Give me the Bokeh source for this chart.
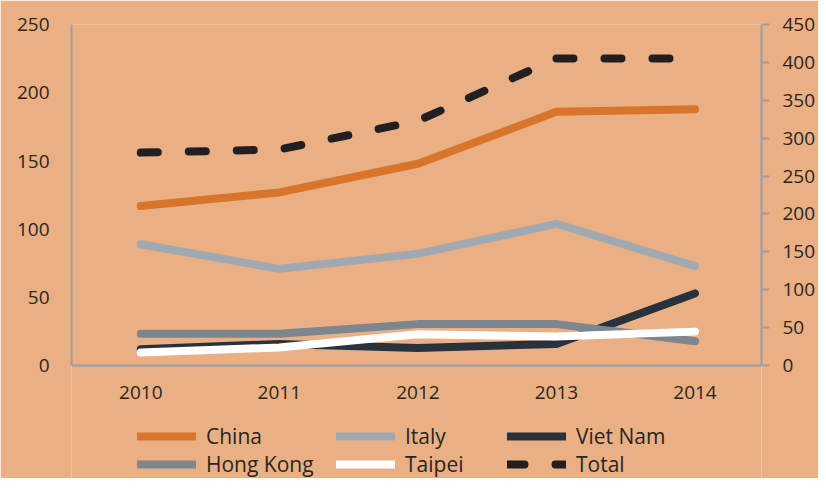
from bokeh.plotting import figure
from bokeh.models import Range1d, LinearAxis, FixedTicker, Legend, LegendItem
from bokeh.embed import file_html
from bokeh.resources import INLINE

years = [2010, 2011, 2012, 2013, 2014]
china = [117, 127, 148, 186, 188]
italy = [89, 71, 82, 104, 73]
viet_nam = [12, 16, 13, 16, 53]
hong_kong = [23.5, 23.5, 30.5, 30.5, 18]
taipei = [9.7, 13.4, 23, 21.4, 25]
total = [281, 285, 323, 405, 405]

left_ticks = [0, 50, 100, 150, 200, 250]
right_ticks = [0, 50, 100, 150, 200, 250, 300, 350, 400, 450]

BG = "#EAB083"
AXIS = "#9A9FA5"
TXT = "#2B2522"
FONT = "Open Sans"

# frame reaches down to the figure bottom so the legend (inside the frame) is not clipped;
# the value axes are bounded to their data span.
p = figure(width=818, height=478, output_backend="svg", toolbar_location=None,
           x_range=Range1d(2009.5, 2014.48), y_range=Range1d(-82.6, 250),
           min_border_left=71, min_border_right=55, min_border_top=24,
           min_border_bottom=0, x_axis_location=None, y_axis_location=None)
p.extra_y_ranges = {"right": Range1d(-149.1, 450)}
p.background_fill_color = BG
p.border_fill_color = BG
p.outline_line_color = None
p.xgrid.visible = False
p.ygrid.visible = False

def style_axis(ax):
    ax.axis_line_color = AXIS
    ax.axis_line_width = 2
    ax.major_tick_line_color = AXIS
    ax.major_tick_line_width = 2
    ax.minor_tick_line_color = None
    ax.major_label_text_font = FONT
    ax.major_label_text_font_size = "19px"
    ax.major_label_text_color = TXT

xa = LinearAxis(ticker=FixedTicker(ticks=years), fixed_location=0)
style_axis(xa)
xa.major_tick_out = 0
xa.major_tick_in = 0
xa.major_label_standoff = 20
p.add_layout(xa, "below")

ya = LinearAxis(ticker=FixedTicker(ticks=left_ticks), bounds=(0, 250))
style_axis(ya)
ya.major_tick_out = 0
ya.major_tick_in = 0
ya.major_label_standoff = 22
p.add_layout(ya, "left")

ra = LinearAxis(y_range_name="right", ticker=FixedTicker(ticks=right_ticks), bounds=(0, 450))
style_axis(ra)
ra.major_tick_out = 8
ra.major_tick_in = 0
ra.major_label_standoff = 13
p.add_layout(ra, "right")

series = [
    ("China", china, "#D9752B", None, "default"),
    ("Italy", italy, "#A0A9B2", None, "default"),
    ("Viet Nam", viet_nam, "#28323D", None, "default"),
    ("Hong Kong", hong_kong, "#7B868F", None, "default"),
    ("Taipei", taipei, "#FFFFFF", None, "default"),
    ("Total", total, "#231F20", "17 31", "right"),
]

renderers = {}
for name, vals, color, dash, rng in series:
    kw = dict(line_color=color, line_width=8, line_cap="round", line_join="round")
    if dash:
        kw["line_dash"] = dash
    r = p.line(years, vals, y_range_name=rng, **kw)
    renderers[name] = r

columns = [
    (["China", "Hong Kong"], 66),
    (["Italy", "Taipei"], 265),
    (["Viet Nam", "Total"], 436),
]
for names, x in columns:
    leg = Legend(items=[LegendItem(label=n, renderers=[renderers[n]]) for n in names],
                 location=(x, 0), orientation="vertical",
                 background_fill_alpha=0, border_line_color=None,
                 padding=0, margin=0, spacing=-4,
                 glyph_width=59, glyph_height=20, label_height=20,
                 label_standoff=10,
                 label_text_font=FONT, label_text_font_size="21px",
                 label_text_color=TXT)
    p.add_layout(leg, "center")

open("out.html", "w").write(file_html(p, INLINE))
